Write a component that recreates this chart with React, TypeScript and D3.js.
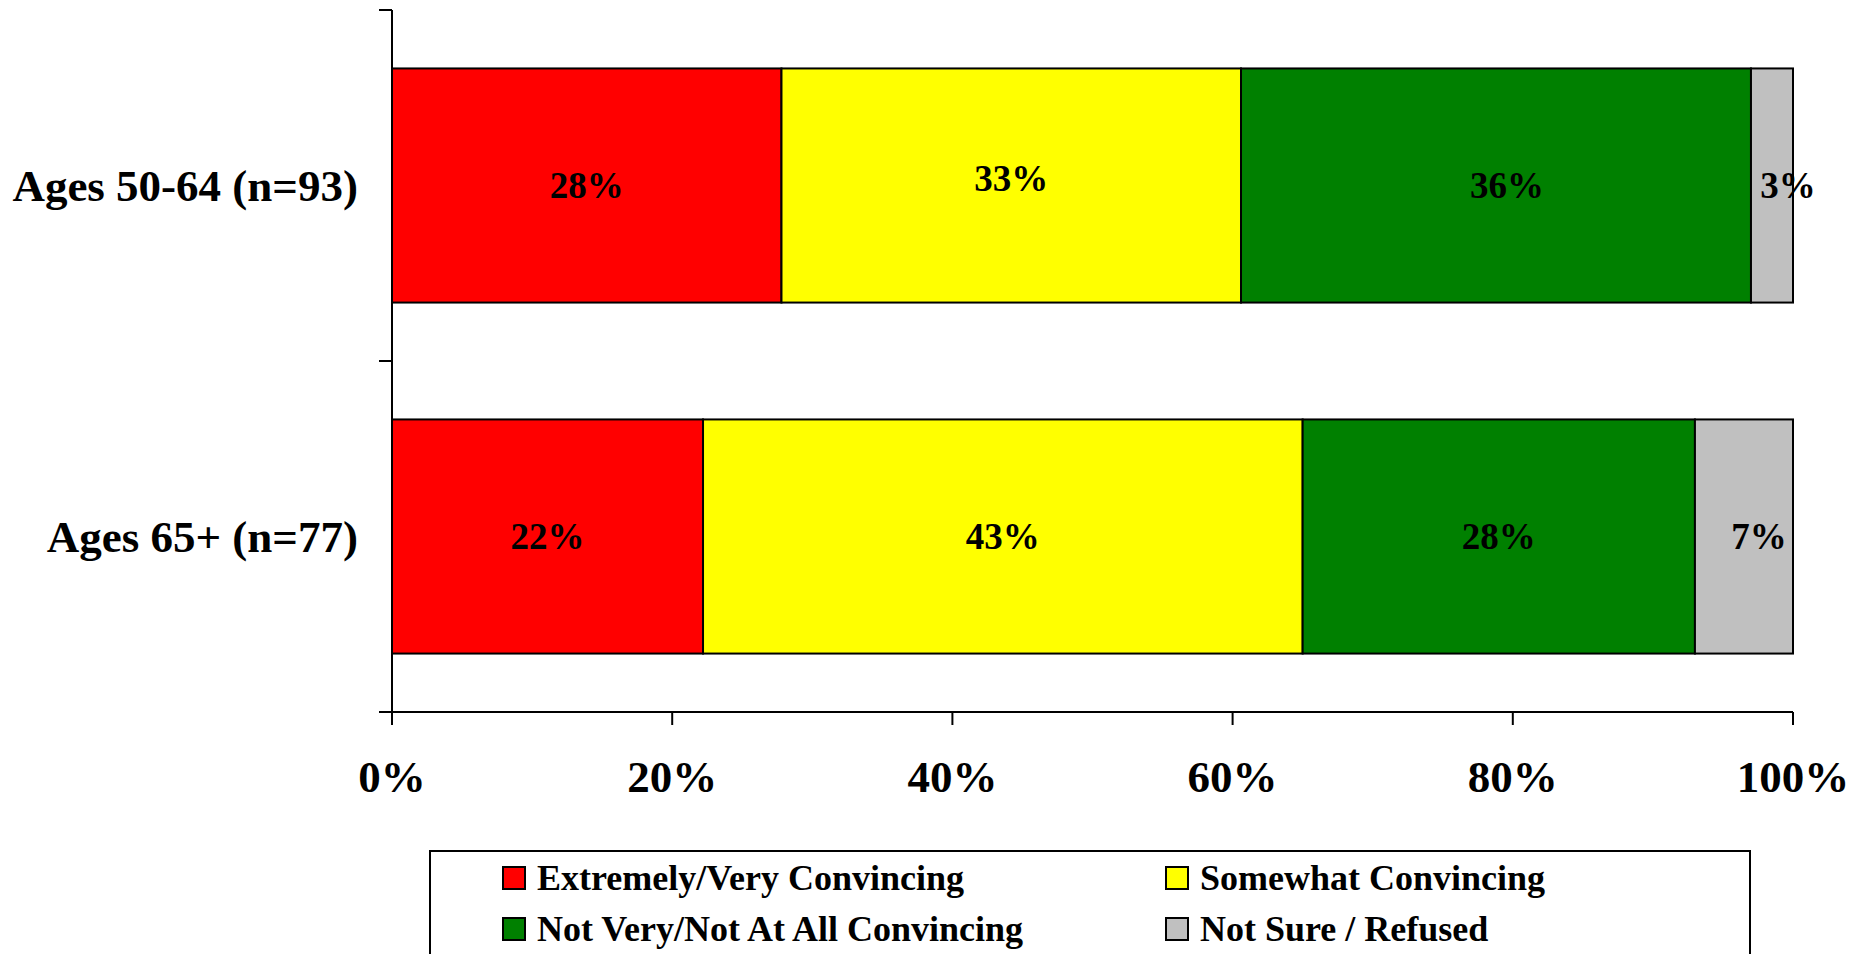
import React from 'react';
import * as d3 from 'd3';

const WIDTH = 1869;
const HEIGHT = 954;

const categories = ['Ages 50-64 (n=93)', 'Ages 65+ (n=77)'];
const seriesNames = [
    'Extremely/Very Convincing',
    'Somewhat Convincing',
    'Not Very/Not At All Convincing',
    'Not Sure / Refused',
];
const seriesColors = ['#FF0000', '#FFFF00', '#008000', '#C0C0C0'];
// values per category, in series order (labels are rounded)
const convincing = [27.8, 22.2];
const somewhat = [32.8, 42.8];
const notConvincing = [36.4, 28.0];
const notSure = [3.0, 7.0];
const xTicks = [0, 20, 40, 60, 80, 100];

const FONT = '"Liberation Serif", "Times New Roman", serif';

// excel put a few labels a bit off centre
const labelNudge: Record<string, [number, number]> = {
    '0-1': [0, -7],
    '0-2': [11, 0],
    '0-3': [16, 0],
    '1-3': [15, 0],
};

const App = () => {
    const rows = categories.map((c, i) => ({
        cat: c,
        s0: convincing[i],
        s1: somewhat[i],
        s2: notConvincing[i],
        s3: notSure[i],
    }));
    const keys = ['s0', 's1', 's2', 's3'];
    const stacked = d3.stack<any>().keys(keys)(rows);

    const x = d3.scaleLinear([0, 100], [392, 1793]);
    const y = d3
        .scaleBand<string>()
        .domain(categories)
        .range([10, 712])
        .paddingInner(0.333)
        .paddingOuter(0.1665);
    const step = y.step();
    const axisY = 712;

    const legendX = 430;
    const legendY = 851;
    const colX = [503, 1166];
    const rowY = [867, 918];

    return (
        <div style={{ position: 'absolute', left: 0, top: 0 }}>
            <svg width={WIDTH} height={HEIGHT} style={{ display: 'block' }}>
                <rect width={WIDTH} height={HEIGHT} fill='#ffffff' />

                {/* bars */}
                {stacked.map((layer, si) => (
                    <g key={layer.key}>
                        {layer.map((d, ci) => (
                            <rect
                                key={ci}
                                x={x(d[0])}
                                y={y(categories[ci])}
                                width={x(d[1]) - x(d[0])}
                                height={y.bandwidth()}
                                fill={seriesColors[si]}
                                stroke='#000'
                                strokeWidth={2}
                            />
                        ))}
                    </g>
                ))}

                {/* value labels */}
                {stacked.map((layer, si) =>
                    layer.map((d, ci) => {
                        const n = labelNudge[`${ci}-${si}`] || [0, 0];
                        return (
                            <text
                                key={`${si}-${ci}`}
                                x={(x(d[0]) + x(d[1])) / 2 + n[0]}
                                y={(y(categories[ci]) as number) + y.bandwidth() / 2 + n[1]}
                                dy='0.35em'
                                textAnchor='middle'
                                fontFamily={FONT}
                                fontWeight='bold'
                                fontSize={37}
                                fill='#000'
                            >
                                {`${Math.round(d[1] - d[0])}%`}
                            </text>
                        );
                    })
                )}

                {/* y axis */}
                <line x1={x(0)} x2={x(0)} y1={10} y2={axisY} stroke='#000' strokeWidth={2} />
                {[0, 1, 2].map(i => {
                    const ty = 10 + i * step;
                    return (
                        <line key={i} x1={x(0) - 13} x2={x(0)} y1={ty} y2={ty} stroke='#000' strokeWidth={2} />
                    );
                })}
                {categories.map(c => (
                    <text
                        key={c}
                        x={358}
                        y={(y(c) as number) + y.bandwidth() / 2}
                        dy='0.35em'
                        textAnchor='end'
                        fontFamily={FONT}
                        fontWeight='bold'
                        fontSize={45}
                    >
                        {c}
                    </text>
                ))}

                {/* x axis */}
                <line x1={x(0) - 13} x2={x(100)} y1={axisY} y2={axisY} stroke='#000' strokeWidth={2} />
                {xTicks.map(t => (
                    <g key={t} transform={`translate(${x(t)},${axisY})`}>
                        <line y1={0} y2={13} stroke='#000' strokeWidth={2} />
                        <text
                            y={80}
                            textAnchor='middle'
                            fontFamily={FONT}
                            fontWeight='bold'
                            fontSize={45}
                        >
                            {`${t}%`}
                        </text>
                    </g>
                ))}

                {/* legend */}
                <rect
                    x={legendX}
                    y={legendY}
                    width={1750 - legendX}
                    height={140}
                    fill='#fff'
                    stroke='#000'
                    strokeWidth={2}
                />
                {seriesNames.map((name, i) => {
                    const cx = colX[i % 2];
                    const cy = rowY[Math.floor(i / 2)];
                    return (
                        <g key={name}>
                            <rect
                                x={cx}
                                y={cy}
                                width={22}
                                height={22}
                                fill={seriesColors[i]}
                                stroke='#000'
                                strokeWidth={2}
                            />
                            <text
                                x={cx + 34}
                                y={cy + 23}
                                fontFamily={FONT}
                                fontWeight='bold'
                                fontSize={36}
                            >
                                {name}
                            </text>
                        </g>
                    );
                })}
            </svg>
        </div>
    );
};

export default App;
